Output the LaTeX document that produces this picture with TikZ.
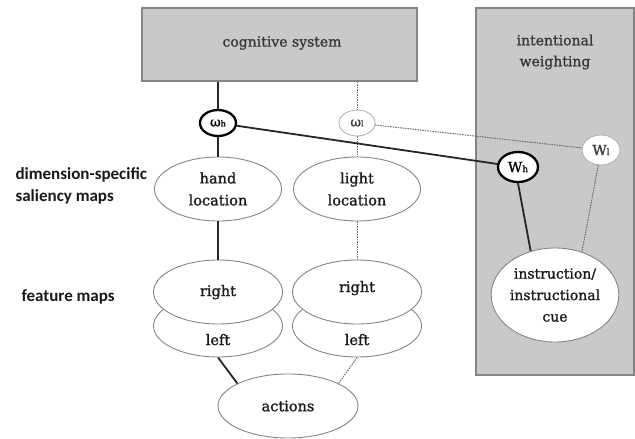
\documentclass[tikz,border=0pt]{standalone}
\usepackage{fontspec}
\setmainfont{DejaVu Serif}
\newfontfamily\nodefont{DejaVu Serif}[FakeBold=1.2]
\newfontfamily\labfont{Carlito}
\usetikzlibrary{shapes.geometric}
\definecolor{boxgray}{gray}{0.79}
\definecolor{edgegray}{gray}{0.52}
\definecolor{lightedge}{gray}{0.68}
\definecolor{inkgray}{gray}{0.22}
\definecolor{dashgray}{gray}{0.42}
\tikzset{
  panel/.style={draw=edgegray, fill=boxgray, line width=1.2pt, inner sep=0pt},
  paneltext/.style={align=center, text=inkgray, font=\nodefont\fontsize{14}{21}\selectfont},
  map/.style={ellipse, draw=edgegray, fill=white, line width=0.9pt, inner sep=0pt, align=center, text=black!90, font=\nodefont\fontsize{14.5}{22}\selectfont},
  wstrong/.style={ellipse, draw=black, fill=white, line width=2.3pt, inner sep=0pt, font=\nodefont\fontsize{13}{13}\selectfont},
  wweak/.style={ellipse, draw=lightedge, fill=white, line width=0.8pt, inner sep=0pt, text=inkgray, font=\nodefont\fontsize{13}{13}\selectfont},
  solidlink/.style={line width=1.8pt, draw=black!85},
  dashlink/.style={line width=1pt, draw=dashgray, dash pattern=on 1.5pt off 1pt},
  sidelabel/.style={anchor=west, align=left, text=black!90, font=\labfont\bfseries\fontsize{17}{22}\selectfont}
}
\begin{document}
\begin{tikzpicture}[x=1pt,y=-1pt]
\useasboundingbox (0,0) rectangle (635,439);
% panels
\node[panel, minimum width=275pt, minimum height=73pt] (cog) at (279.5,44.5) {};
\node[paneltext] (cogtext) at (282,43) {cognitive system};
\node[panel, minimum width=158pt, minimum height=367pt] (iw) at (555,191.5) {};
\node[paneltext] (iwtext) at (555,52) {intentional\\weighting};
% weights
\node[wstrong, minimum width=36pt, minimum height=26pt] (oh) at (218,123) {ω{\footnotesize h}};
\node[wweak, minimum width=36pt, minimum height=26pt] (ol) at (357,123) {ω{\footnotesize l}};
\node[wstrong, minimum width=40pt, minimum height=30pt, font=\nodefont\fontsize{14}{14}\selectfont] (Wh) at (518,167) {W{\small h}};
\node[wweak, minimum width=38pt, minimum height=30pt, font=\nodefont\fontsize{14}{14}\selectfont] (Wl) at (601,150) {W{\small l}};
% saliency maps
\node[map, minimum width=127pt, minimum height=64pt] (hand) at (218,189) {hand\\location};
\node[map, minimum width=127pt, minimum height=64pt] (light) at (357,189) {light\\location};
% feature maps
\node[map, minimum width=129pt, minimum height=62pt] (lh) at (218,326) {\raisebox{-19pt}[0pt][0pt]{left}};
\node[map, minimum width=129pt, minimum height=64pt] (rh) at (218,292) {\raisebox{-4pt}[0pt][0pt]{right}};
\node[map, minimum width=129pt, minimum height=62pt] (ll) at (357,326) {\raisebox{-19pt}[0pt][0pt]{left}};
\node[map, minimum width=129pt, minimum height=64pt] (rl) at (357,292) {\raisebox{0pt}[0pt][0pt]{right}};
% actions and instruction
\node[map, minimum width=140pt, minimum height=64pt] (act) at (288,406) {actions};
\node[map, minimum width=113pt, minimum height=94pt, font=\nodefont\fontsize{14}{21.5}\selectfont] (ins) at (555,295) {instruction/\\instructional\\cue};
% side labels
\node[sidelabel] (dsl) at (12,186) {dimension-specific\\saliency maps};
\node[sidelabel] (fm) at (18,297) {feature maps};
% links
\draw[solidlink] (cog.south -| oh) -- (oh);
\draw[dashlink] (cog.south -| ol) -- (ol);
\draw[solidlink] (oh) -- (hand);
\draw[dashlink] (ol) -- (light);
\draw[solidlink] (oh) -- (Wh);
\draw[dashlink] (ol) -- (Wl);
\draw[solidlink] (hand) -- (rh);
\draw[dashlink] (light) -- (rl);
\draw[solidlink] (lh.south) -- (act.156);
\draw[dashlink] (ll.south) -- (act.24);
\draw[solidlink] (Wh.south) -- (ins.119);
\draw[dashlink] (Wl.260) -- (ins.58);
\end{tikzpicture}
\end{document}
